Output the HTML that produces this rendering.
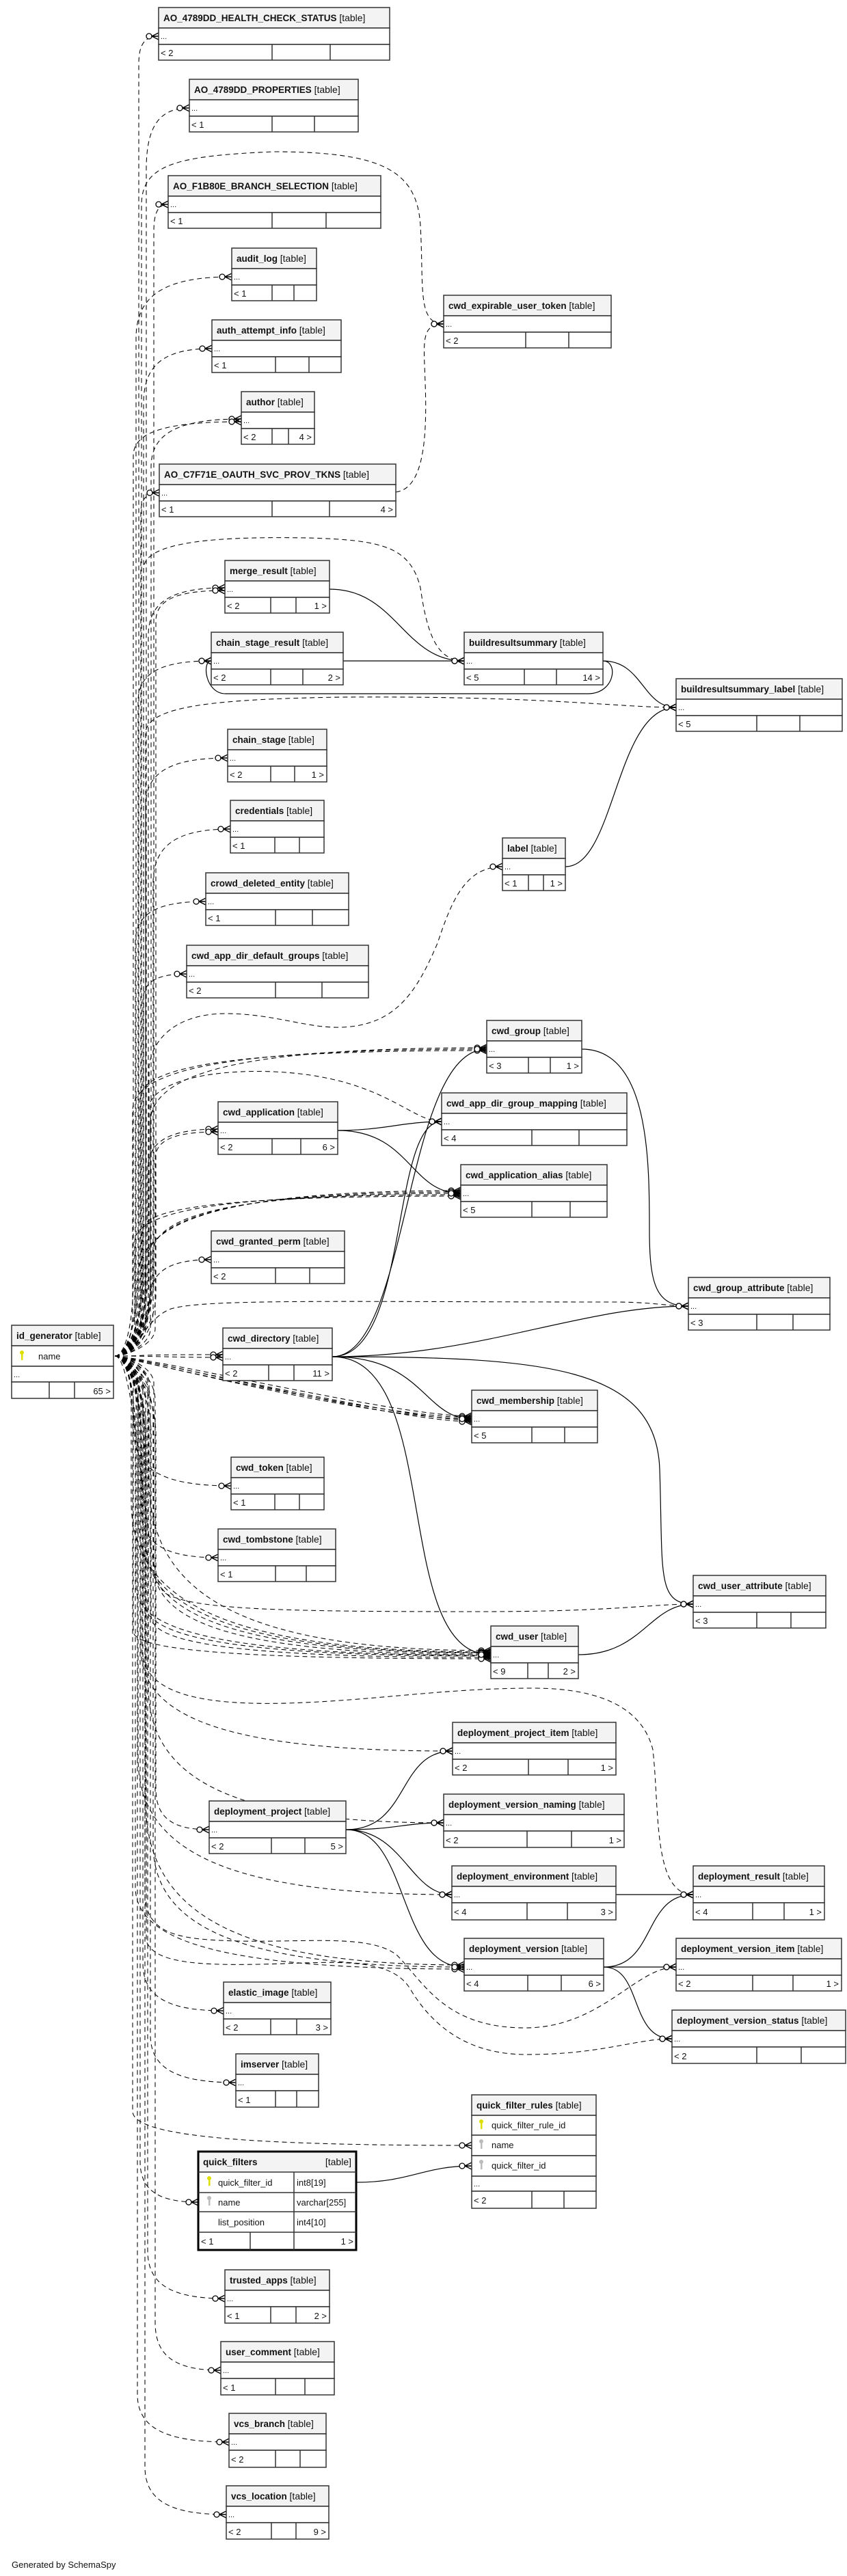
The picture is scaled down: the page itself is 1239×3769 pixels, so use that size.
<!DOCTYPE html>
<html><head><meta charset="utf-8"><style>
html,body{margin:0;padding:0;background:#fff}
svg{display:block}
.h{fill:#f3f3f3;stroke:#333;stroke-width:1.5}
.r{fill:#fff;stroke:#333;stroke-width:1.5}
.l{stroke:#333;stroke-width:1.5}
text{font-family:"Liberation Sans",sans-serif;fill:#111}
.n{font-weight:bold;font-size:13.5px}
.t{font-weight:normal;font-size:14px}
.d{font-size:11px}
.f{font-size:13px}
.e{fill:none;stroke:#000;stroke-width:1.05;stroke-dasharray:7,5}
.s{fill:none;stroke:#000;stroke-width:1.2}
</style></head><body>
<svg id="sv" width="1239" height="3769" viewBox="0 0 1239 3769" xmlns="http://www.w3.org/2000/svg">
<defs>
<marker id="m" markerUnits="userSpaceOnUse" markerWidth="22" markerHeight="14" refX="21" refY="7" orient="auto" viewBox="0 0 22 14">
<circle cx="7" cy="7" r="4" fill="#fff" stroke="#000" stroke-width="1.3" stroke-dasharray="none"/>
<path d="M11,7 L21,2 M11,7 L21,7 M11,7 L21,12" stroke="#000" stroke-width="1.4" fill="none" stroke-dasharray="none"/>
</marker>
</defs>
<g id="edges"></g>
<g id="tables">
<g transform="translate(232,11)"><rect class="h" width="338" height="30"/><rect class="r" y="30" width="338" height="24"/><rect class="r" y="54" width="338" height="23"/><line class="l" x1="166" y1="54" x2="166" y2="77"/><line class="l" x1="251" y1="54" x2="251" y2="77"/><text class="n" x="7" y="20">AO_4789DD_HEALTH_CHECK_STATUS <tspan class="t">[table]</tspan></text><text class="d" x="3" y="46">...</text><text class="f" x="3" y="71">&lt; 2</text></g>

<g transform="translate(277,116)"><rect class="h" width="247" height="30"/><rect class="r" y="30" width="247" height="24"/><rect class="r" y="54" width="247" height="23"/><line class="l" x1="121" y1="54" x2="121" y2="77"/><line class="l" x1="183" y1="54" x2="183" y2="77"/><text class="n" x="7" y="20">AO_4789DD_PROPERTIES <tspan class="t">[table]</tspan></text><text class="d" x="3" y="46">...</text><text class="f" x="3" y="71">&lt; 1</text></g>

<g transform="translate(246,257)"><rect class="h" width="311" height="30"/><rect class="r" y="30" width="311" height="24"/><rect class="r" y="54" width="311" height="23"/><line class="l" x1="152" y1="54" x2="152" y2="77"/><line class="l" x1="231" y1="54" x2="231" y2="77"/><text class="n" x="7" y="20">AO_F1B80E_BRANCH_SELECTION <tspan class="t">[table]</tspan></text><text class="d" x="3" y="46">...</text><text class="f" x="3" y="71">&lt; 1</text></g>

<g transform="translate(339,363)"><rect class="h" width="124" height="30"/><rect class="r" y="30" width="124" height="24"/><rect class="r" y="54" width="124" height="23"/><line class="l" x1="59" y1="54" x2="59" y2="77"/><line class="l" x1="91" y1="54" x2="91" y2="77"/><text class="n" x="7" y="20">audit_log <tspan class="t">[table]</tspan></text><text class="d" x="3" y="46">...</text><text class="f" x="3" y="71">&lt; 1</text></g>

<g transform="translate(649,432)"><rect class="h" width="245" height="30"/><rect class="r" y="30" width="245" height="24"/><rect class="r" y="54" width="245" height="23"/><line class="l" x1="120" y1="54" x2="120" y2="77"/><line class="l" x1="183" y1="54" x2="183" y2="77"/><text class="n" x="7" y="20">cwd_expirable_user_token <tspan class="t">[table]</tspan></text><text class="d" x="3" y="46">...</text><text class="f" x="3" y="71">&lt; 2</text></g>

<g transform="translate(310,468)"><rect class="h" width="189" height="30"/><rect class="r" y="30" width="189" height="24"/><rect class="r" y="54" width="189" height="23"/><line class="l" x1="93" y1="54" x2="93" y2="77"/><line class="l" x1="142" y1="54" x2="142" y2="77"/><text class="n" x="7" y="20">auth_attempt_info <tspan class="t">[table]</tspan></text><text class="d" x="3" y="46">...</text><text class="f" x="3" y="71">&lt; 1</text></g>

<g transform="translate(353,573)"><rect class="h" width="107" height="30"/><rect class="r" y="30" width="107" height="24"/><rect class="r" y="54" width="107" height="23"/><line class="l" x1="45" y1="54" x2="45" y2="77"/><line class="l" x1="69" y1="54" x2="69" y2="77"/><text class="n" x="7" y="20">author <tspan class="t">[table]</tspan></text><text class="d" x="3" y="46">...</text><text class="f" x="3" y="71">&lt; 2</text><text class="f" x="103" y="71" text-anchor="end">4 &gt;</text></g>

<g transform="translate(233,679)"><rect class="h" width="346" height="30"/><rect class="r" y="30" width="346" height="24"/><rect class="r" y="54" width="346" height="23"/><line class="l" x1="165" y1="54" x2="165" y2="77"/><line class="l" x1="249" y1="54" x2="249" y2="77"/><text class="n" x="7" y="20">AO_C7F71E_OAUTH_SVC_PROV_TKNS <tspan class="t">[table]</tspan></text><text class="d" x="3" y="46">...</text><text class="f" x="3" y="71">&lt; 1</text><text class="f" x="342" y="71" text-anchor="end">4 &gt;</text></g>

<g transform="translate(329,820)"><rect class="h" width="153" height="30"/><rect class="r" y="30" width="153" height="24"/><rect class="r" y="54" width="153" height="23"/><line class="l" x1="67" y1="54" x2="67" y2="77"/><line class="l" x1="104" y1="54" x2="104" y2="77"/><text class="n" x="7" y="20">merge_result <tspan class="t">[table]</tspan></text><text class="d" x="3" y="46">...</text><text class="f" x="3" y="71">&lt; 2</text><text class="f" x="149" y="71" text-anchor="end">1 &gt;</text></g>

<g transform="translate(309,925)"><rect class="h" width="193" height="30"/><rect class="r" y="30" width="193" height="24"/><rect class="r" y="54" width="193" height="23"/><line class="l" x1="87" y1="54" x2="87" y2="77"/><line class="l" x1="134" y1="54" x2="134" y2="77"/><text class="n" x="7" y="20">chain_stage_result <tspan class="t">[table]</tspan></text><text class="d" x="3" y="46">...</text><text class="f" x="3" y="71">&lt; 2</text><text class="f" x="189" y="71" text-anchor="end">2 &gt;</text></g>

<g transform="translate(679,925)"><rect class="h" width="203" height="30"/><rect class="r" y="30" width="203" height="24"/><rect class="r" y="54" width="203" height="23"/><line class="l" x1="88" y1="54" x2="88" y2="77"/><line class="l" x1="135" y1="54" x2="135" y2="77"/><text class="n" x="7" y="20">buildresultsummary <tspan class="t">[table]</tspan></text><text class="d" x="3" y="46">...</text><text class="f" x="3" y="71">&lt; 5</text><text class="f" x="199" y="71" text-anchor="end">14 &gt;</text></g>

<g transform="translate(989,993)"><rect class="h" width="243" height="30"/><rect class="r" y="30" width="243" height="24"/><rect class="r" y="54" width="243" height="23"/><line class="l" x1="118" y1="54" x2="118" y2="77"/><line class="l" x1="181" y1="54" x2="181" y2="77"/><text class="n" x="7" y="20">buildresultsummary_label <tspan class="t">[table]</tspan></text><text class="d" x="3" y="46">...</text><text class="f" x="3" y="71">&lt; 5</text></g>

<g transform="translate(333,1067)"><rect class="h" width="145" height="30"/><rect class="r" y="30" width="145" height="24"/><rect class="r" y="54" width="145" height="23"/><line class="l" x1="63" y1="54" x2="63" y2="77"/><line class="l" x1="98" y1="54" x2="98" y2="77"/><text class="n" x="7" y="20">chain_stage <tspan class="t">[table]</tspan></text><text class="d" x="3" y="46">...</text><text class="f" x="3" y="71">&lt; 2</text><text class="f" x="141" y="71" text-anchor="end">1 &gt;</text></g>

<g transform="translate(337,1171)"><rect class="h" width="137" height="30"/><rect class="r" y="30" width="137" height="24"/><rect class="r" y="54" width="137" height="23"/><line class="l" x1="65" y1="54" x2="65" y2="77"/><line class="l" x1="101" y1="54" x2="101" y2="77"/><text class="n" x="7" y="20">credentials <tspan class="t">[table]</tspan></text><text class="d" x="3" y="46">...</text><text class="f" x="3" y="71">&lt; 1</text></g>

<g transform="translate(735,1226)"><rect class="h" width="92" height="30"/><rect class="r" y="30" width="92" height="24"/><rect class="r" y="54" width="92" height="23"/><line class="l" x1="38" y1="54" x2="38" y2="77"/><line class="l" x1="60" y1="54" x2="60" y2="77"/><text class="n" x="7" y="20">label <tspan class="t">[table]</tspan></text><text class="d" x="3" y="46">...</text><text class="f" x="3" y="71">&lt; 1</text><text class="f" x="88" y="71" text-anchor="end">1 &gt;</text></g>

<g transform="translate(301,1277)"><rect class="h" width="209" height="30"/><rect class="r" y="30" width="209" height="24"/><rect class="r" y="54" width="209" height="23"/><line class="l" x1="102" y1="54" x2="102" y2="77"/><line class="l" x1="156" y1="54" x2="156" y2="77"/><text class="n" x="7" y="20">crowd_deleted_entity <tspan class="t">[table]</tspan></text><text class="d" x="3" y="46">...</text><text class="f" x="3" y="71">&lt; 1</text></g>

<g transform="translate(273,1383)"><rect class="h" width="266" height="30"/><rect class="r" y="30" width="266" height="24"/><rect class="r" y="54" width="266" height="23"/><line class="l" x1="130" y1="54" x2="130" y2="77"/><line class="l" x1="198" y1="54" x2="198" y2="77"/><text class="n" x="7" y="20">cwd_app_dir_default_groups <tspan class="t">[table]</tspan></text><text class="d" x="3" y="46">...</text><text class="f" x="3" y="71">&lt; 2</text></g>

<g transform="translate(712,1493)"><rect class="h" width="139" height="30"/><rect class="r" y="30" width="139" height="24"/><rect class="r" y="54" width="139" height="23"/><line class="l" x1="61" y1="54" x2="61" y2="77"/><line class="l" x1="93" y1="54" x2="93" y2="77"/><text class="n" x="7" y="20">cwd_group <tspan class="t">[table]</tspan></text><text class="d" x="3" y="46">...</text><text class="f" x="3" y="71">&lt; 3</text><text class="f" x="135" y="71" text-anchor="end">1 &gt;</text></g>

<g transform="translate(646,1599)"><rect class="h" width="271" height="30"/><rect class="r" y="30" width="271" height="24"/><rect class="r" y="54" width="271" height="23"/><line class="l" x1="132" y1="54" x2="132" y2="77"/><line class="l" x1="201" y1="54" x2="201" y2="77"/><text class="n" x="7" y="20">cwd_app_dir_group_mapping <tspan class="t">[table]</tspan></text><text class="d" x="3" y="46">...</text><text class="f" x="3" y="71">&lt; 4</text></g>

<g transform="translate(319,1612)"><rect class="h" width="175" height="30"/><rect class="r" y="30" width="175" height="24"/><rect class="r" y="54" width="175" height="23"/><line class="l" x1="79" y1="54" x2="79" y2="77"/><line class="l" x1="121" y1="54" x2="121" y2="77"/><text class="n" x="7" y="20">cwd_application <tspan class="t">[table]</tspan></text><text class="d" x="3" y="46">...</text><text class="f" x="3" y="71">&lt; 2</text><text class="f" x="171" y="71" text-anchor="end">6 &gt;</text></g>

<g transform="translate(674,1704)"><rect class="h" width="214" height="30"/><rect class="r" y="30" width="214" height="24"/><rect class="r" y="54" width="214" height="23"/><line class="l" x1="104" y1="54" x2="104" y2="77"/><line class="l" x1="160" y1="54" x2="160" y2="77"/><text class="n" x="7" y="20">cwd_application_alias <tspan class="t">[table]</tspan></text><text class="d" x="3" y="46">...</text><text class="f" x="3" y="71">&lt; 5</text></g>

<g transform="translate(309,1801)"><rect class="h" width="195" height="30"/><rect class="r" y="30" width="195" height="24"/><rect class="r" y="54" width="195" height="23"/><line class="l" x1="94" y1="54" x2="94" y2="77"/><line class="l" x1="144" y1="54" x2="144" y2="77"/><text class="n" x="7" y="20">cwd_granted_perm <tspan class="t">[table]</tspan></text><text class="d" x="3" y="46">...</text><text class="f" x="3" y="71">&lt; 2</text></g>

<g transform="translate(1007,1869)"><rect class="h" width="207" height="30"/><rect class="r" y="30" width="207" height="24"/><rect class="r" y="54" width="207" height="23"/><line class="l" x1="100" y1="54" x2="100" y2="77"/><line class="l" x1="153" y1="54" x2="153" y2="77"/><text class="n" x="7" y="20">cwd_group_attribute <tspan class="t">[table]</tspan></text><text class="d" x="3" y="46">...</text><text class="f" x="3" y="71">&lt; 3</text></g>

<g transform="translate(17,1939)"><rect class="h" width="149" height="30"/><rect class="r" y="30" width="149" height="30"/><rect class="r" y="60" width="149" height="23"/><rect class="r" y="83" width="149" height="24"/><line class="l" x1="55" y1="83" x2="55" y2="107"/><line class="l" x1="92" y1="83" x2="92" y2="107"/><text class="n" x="7" y="20">id_generator <tspan class="t">[table]</tspan></text><circle cx="15" cy="40" r="3" fill="#dede00"/><rect x="14" y="41" width="2.5" height="10" fill="#dede00"/><text class="f" x="39" y="50">name</text><text class="d" x="3" y="76">...</text><text class="f" x="145" y="101" text-anchor="end">65 &gt;</text></g>

<g transform="translate(326,1943)"><rect class="h" width="160" height="30"/><rect class="r" y="30" width="160" height="24"/><rect class="r" y="54" width="160" height="23"/><line class="l" x1="67" y1="54" x2="67" y2="77"/><line class="l" x1="104" y1="54" x2="104" y2="77"/><text class="n" x="7" y="20">cwd_directory <tspan class="t">[table]</tspan></text><text class="d" x="3" y="46">...</text><text class="f" x="3" y="71">&lt; 2</text><text class="f" x="156" y="71" text-anchor="end">11 &gt;</text></g>

<g transform="translate(690,2034)"><rect class="h" width="184" height="30"/><rect class="r" y="30" width="184" height="24"/><rect class="r" y="54" width="184" height="23"/><line class="l" x1="88" y1="54" x2="88" y2="77"/><line class="l" x1="136" y1="54" x2="136" y2="77"/><text class="n" x="7" y="20">cwd_membership <tspan class="t">[table]</tspan></text><text class="d" x="3" y="46">...</text><text class="f" x="3" y="71">&lt; 5</text></g>

<g transform="translate(338,2132)"><rect class="h" width="136" height="30"/><rect class="r" y="30" width="136" height="24"/><rect class="r" y="54" width="136" height="23"/><line class="l" x1="64" y1="54" x2="64" y2="77"/><line class="l" x1="100" y1="54" x2="100" y2="77"/><text class="n" x="7" y="20">cwd_token <tspan class="t">[table]</tspan></text><text class="d" x="3" y="46">...</text><text class="f" x="3" y="71">&lt; 1</text></g>

<g transform="translate(319,2237)"><rect class="h" width="172" height="30"/><rect class="r" y="30" width="172" height="24"/><rect class="r" y="54" width="172" height="23"/><line class="l" x1="84" y1="54" x2="84" y2="77"/><line class="l" x1="129" y1="54" x2="129" y2="77"/><text class="n" x="7" y="20">cwd_tombstone <tspan class="t">[table]</tspan></text><text class="d" x="3" y="46">...</text><text class="f" x="3" y="71">&lt; 1</text></g>

<g transform="translate(1014,2305)"><rect class="h" width="194" height="30"/><rect class="r" y="30" width="194" height="24"/><rect class="r" y="54" width="194" height="23"/><line class="l" x1="93" y1="54" x2="93" y2="77"/><line class="l" x1="143" y1="54" x2="143" y2="77"/><text class="n" x="7" y="20">cwd_user_attribute <tspan class="t">[table]</tspan></text><text class="d" x="3" y="46">...</text><text class="f" x="3" y="71">&lt; 3</text></g>

<g transform="translate(718,2379)"><rect class="h" width="128" height="30"/><rect class="r" y="30" width="128" height="24"/><rect class="r" y="54" width="128" height="23"/><line class="l" x1="54" y1="54" x2="54" y2="77"/><line class="l" x1="84" y1="54" x2="84" y2="77"/><text class="n" x="7" y="20">cwd_user <tspan class="t">[table]</tspan></text><text class="d" x="3" y="46">...</text><text class="f" x="3" y="71">&lt; 9</text><text class="f" x="124" y="71" text-anchor="end">2 &gt;</text></g>

<g transform="translate(662,2520)"><rect class="h" width="239" height="30"/><rect class="r" y="30" width="239" height="24"/><rect class="r" y="54" width="239" height="23"/><line class="l" x1="111" y1="54" x2="111" y2="77"/><line class="l" x1="169" y1="54" x2="169" y2="77"/><text class="n" x="7" y="20">deployment_project_item <tspan class="t">[table]</tspan></text><text class="d" x="3" y="46">...</text><text class="f" x="3" y="71">&lt; 2</text><text class="f" x="235" y="71" text-anchor="end">1 &gt;</text></g>

<g transform="translate(649,2625)"><rect class="h" width="264" height="30"/><rect class="r" y="30" width="264" height="24"/><rect class="r" y="54" width="264" height="24"/><line class="l" x1="122" y1="54" x2="122" y2="78"/><line class="l" x1="187" y1="54" x2="187" y2="78"/><text class="n" x="7" y="20">deployment_version_naming <tspan class="t">[table]</tspan></text><text class="d" x="3" y="46">...</text><text class="f" x="3" y="72">&lt; 2</text><text class="f" x="260" y="72" text-anchor="end">1 &gt;</text></g>

<g transform="translate(306,2635)"><rect class="h" width="200" height="30"/><rect class="r" y="30" width="200" height="24"/><rect class="r" y="54" width="200" height="23"/><line class="l" x1="91" y1="54" x2="91" y2="77"/><line class="l" x1="140" y1="54" x2="140" y2="77"/><text class="n" x="7" y="20">deployment_project <tspan class="t">[table]</tspan></text><text class="d" x="3" y="46">...</text><text class="f" x="3" y="71">&lt; 2</text><text class="f" x="196" y="71" text-anchor="end">5 &gt;</text></g>

<g transform="translate(661,2730)"><rect class="h" width="240" height="30"/><rect class="r" y="30" width="240" height="24"/><rect class="r" y="54" width="240" height="25"/><line class="l" x1="110" y1="54" x2="110" y2="79"/><line class="l" x1="169" y1="54" x2="169" y2="79"/><text class="n" x="7" y="20">deployment_environment <tspan class="t">[table]</tspan></text><text class="d" x="3" y="46">...</text><text class="f" x="3" y="72">&lt; 4</text><text class="f" x="236" y="72" text-anchor="end">3 &gt;</text></g>

<g transform="translate(1014,2730)"><rect class="h" width="192" height="30"/><rect class="r" y="30" width="192" height="24"/><rect class="r" y="54" width="192" height="25"/><line class="l" x1="87" y1="54" x2="87" y2="79"/><line class="l" x1="133" y1="54" x2="133" y2="79"/><text class="n" x="7" y="20">deployment_result <tspan class="t">[table]</tspan></text><text class="d" x="3" y="46">...</text><text class="f" x="3" y="72">&lt; 4</text><text class="f" x="188" y="72" text-anchor="end">1 &gt;</text></g>

<g transform="translate(679,2836)"><rect class="h" width="204" height="30"/><rect class="r" y="30" width="204" height="24"/><rect class="r" y="54" width="204" height="23"/><line class="l" x1="93" y1="54" x2="93" y2="77"/><line class="l" x1="142" y1="54" x2="142" y2="77"/><text class="n" x="7" y="20">deployment_version <tspan class="t">[table]</tspan></text><text class="d" x="3" y="46">...</text><text class="f" x="3" y="71">&lt; 4</text><text class="f" x="200" y="71" text-anchor="end">6 &gt;</text></g>

<g transform="translate(989,2836)"><rect class="h" width="242" height="30"/><rect class="r" y="30" width="242" height="24"/><rect class="r" y="54" width="242" height="23"/><line class="l" x1="112" y1="54" x2="112" y2="77"/><line class="l" x1="171" y1="54" x2="171" y2="77"/><text class="n" x="7" y="20">deployment_version_item <tspan class="t">[table]</tspan></text><text class="d" x="3" y="46">...</text><text class="f" x="3" y="71">&lt; 2</text><text class="f" x="238" y="71" text-anchor="end">1 &gt;</text></g>

<g transform="translate(327,2900)"><rect class="h" width="157" height="30"/><rect class="r" y="30" width="157" height="24"/><rect class="r" y="54" width="157" height="23"/><line class="l" x1="69" y1="54" x2="69" y2="77"/><line class="l" x1="107" y1="54" x2="107" y2="77"/><text class="n" x="7" y="20">elastic_image <tspan class="t">[table]</tspan></text><text class="d" x="3" y="46">...</text><text class="f" x="3" y="71">&lt; 2</text><text class="f" x="153" y="71" text-anchor="end">3 &gt;</text></g>

<g transform="translate(983,2941)"><rect class="h" width="254" height="30"/><rect class="r" y="30" width="254" height="24"/><rect class="r" y="54" width="254" height="24"/><line class="l" x1="124" y1="54" x2="124" y2="78"/><line class="l" x1="189" y1="54" x2="189" y2="78"/><text class="n" x="7" y="20">deployment_version_status <tspan class="t">[table]</tspan></text><text class="d" x="3" y="46">...</text><text class="f" x="3" y="72">&lt; 2</text></g>

<g transform="translate(345,3005)"><rect class="h" width="121" height="30"/><rect class="r" y="30" width="121" height="24"/><rect class="r" y="54" width="121" height="24"/><line class="l" x1="58" y1="54" x2="58" y2="78"/><line class="l" x1="89" y1="54" x2="89" y2="78"/><text class="n" x="7" y="20">imserver <tspan class="t">[table]</tspan></text><text class="d" x="3" y="46">...</text><text class="f" x="3" y="72">&lt; 1</text></g>

<g transform="translate(690,3065)"><rect class="h" width="182" height="30"/><rect class="r" y="30" width="182" height="29"/><rect class="r" y="59" width="182" height="30"/><rect class="r" y="89" width="182" height="30"/><rect class="r" y="119" width="182" height="22"/><rect class="r" y="141" width="182" height="25"/><line class="l" x1="88" y1="141" x2="88" y2="166"/><line class="l" x1="135" y1="141" x2="135" y2="166"/><text class="n" x="7" y="20">quick_filter_rules <tspan class="t">[table]</tspan></text><circle cx="14" cy="39" r="3" fill="#dede00"/><rect x="13" y="40" width="2.5" height="10" fill="#dede00"/><text class="f" x="29" y="49">quick_filter_rule_id</text><circle cx="14" cy="68" r="3" fill="#bbb"/><rect x="13" y="69" width="2.5" height="10" fill="#bbb"/><text class="f" x="29" y="78">name</text><circle cx="14" cy="98" r="3" fill="#bbb"/><rect x="13" y="99" width="2.5" height="10" fill="#bbb"/><text class="f" x="29" y="108">quick_filter_id</text><text class="d" x="3" y="134">...</text><text class="f" x="3" y="159">&lt; 2</text></g>

<g transform="translate(290,3148)"><rect x="0" y="0" width="231" height="144" fill="#fff" stroke="#000" stroke-width="3"/><rect class="h" x="1.5" y="1.5" width="228" height="28.5" style="stroke:none"/><line class="l" x1="0" y1="30" x2="231" y2="30"/><line class="l" x1="0" y1="60" x2="231" y2="60"/><line class="l" x1="0" y1="88" x2="231" y2="88"/><line class="l" x1="0" y1="118" x2="231" y2="118"/><line class="l" x1="140" y1="30" x2="140" y2="118"/><line class="l" x1="76" y1="118" x2="76" y2="144"/><line class="l" x1="140" y1="118" x2="140" y2="144"/><text class="n" x="7" y="20">quick_filters</text><text class="t" x="224" y="20" text-anchor="end">[table]</text><circle cx="16" cy="39" r="3" fill="#dede00"/><rect x="15" y="40" width="2.5" height="10" fill="#dede00"/><text class="f" x="29" y="50">quick_filter_id</text><text class="f" x="144" y="50">int8[19]</text><circle cx="16" cy="68" r="3" fill="#bbb"/><rect x="15" y="69" width="2.5" height="10" fill="#bbb"/><text class="f" x="29" y="79">name</text><text class="f" x="144" y="79">varchar[255]</text><text class="f" x="29" y="108">list_position</text><text class="f" x="144" y="108">int4[10]</text><text class="f" x="4" y="136">&lt; 1</text><text class="f" x="227" y="136" text-anchor="end">1 &gt;</text></g>

<g transform="translate(329,3321)"><rect class="h" width="153" height="30"/><rect class="r" y="30" width="153" height="24"/><rect class="r" y="54" width="153" height="24"/><line class="l" x1="67" y1="54" x2="67" y2="78"/><line class="l" x1="104" y1="54" x2="104" y2="78"/><text class="n" x="7" y="20">trusted_apps <tspan class="t">[table]</tspan></text><text class="d" x="3" y="46">...</text><text class="f" x="3" y="72">&lt; 1</text><text class="f" x="149" y="72" text-anchor="end">2 &gt;</text></g>

<g transform="translate(323,3426)"><rect class="h" width="166" height="30"/><rect class="r" y="30" width="166" height="24"/><rect class="r" y="54" width="166" height="24"/><line class="l" x1="80" y1="54" x2="80" y2="78"/><line class="l" x1="123" y1="54" x2="123" y2="78"/><text class="n" x="7" y="20">user_comment <tspan class="t">[table]</tspan></text><text class="d" x="3" y="46">...</text><text class="f" x="3" y="72">&lt; 1</text></g>

<g transform="translate(335,3531)"><rect class="h" width="142" height="30"/><rect class="r" y="30" width="142" height="24"/><rect class="r" y="54" width="142" height="25"/><line class="l" x1="68" y1="54" x2="68" y2="79"/><line class="l" x1="104" y1="54" x2="104" y2="79"/><text class="n" x="7" y="20">vcs_branch <tspan class="t">[table]</tspan></text><text class="d" x="3" y="46">...</text><text class="f" x="3" y="72">&lt; 2</text></g>

<g transform="translate(331,3637)"><rect class="h" width="150" height="30"/><rect class="r" y="30" width="150" height="24"/><rect class="r" y="54" width="150" height="24"/><line class="l" x1="66" y1="54" x2="66" y2="78"/><line class="l" x1="102" y1="54" x2="102" y2="78"/><text class="n" x="7" y="20">vcs_location <tspan class="t">[table]</tspan></text><text class="d" x="3" y="46">...</text><text class="f" x="3" y="72">&lt; 2</text><text class="f" x="146" y="72" text-anchor="end">9 &gt;</text></g>
</g>
<text x="17" y="3757" style="font-size:13px">Generated by SchemaSpy</text>
</svg>
<script>
(function(){
var g=document.getElementById('edges'),NS='http://www.w3.org/2000/svg';
function P(d,solid){var p=document.createElementNS(NS,'path');p.setAttribute('d',d);p.setAttribute('class',solid?'s':'e');p.setAttribute('marker-end','url(#m)');g.appendChild(p);}
var sx=168,sy=1984,k=0;
function G(tx,ty,lead){
 k++;var bx=192+((k*11)%37);var s=ty<sy?-1:1;var dy=Math.abs(ty-sy);var d;
 if(dy<120){d='M'+sx+','+sy+' C'+(sx+40+(k%5)*12)+','+(sy+(ty-sy)*0.1)+' '+(tx-90-(k%4)*20)+','+ty+' '+tx+','+ty;}
 else{lead=Math.min(lead,dy-65);var ey=ty-s*lead;var m=40+(k%4)*25;
 d='M'+sx+','+sy+' C'+(sx+15)+','+sy+' '+bx+','+(sy+s*m*0.4)+' '+bx+','+(sy+s*m)+' L'+bx+','+ey+' C'+bx+','+(ty-s*lead*0.3)+' '+(bx+(tx-bx)*0.3)+','+ty+' '+tx+','+ty;}
 P(d,false);
}
var E=[[232,53,40],[277,158,90],[246,299,40],[339,405,90],[310,510,80],[353,613,70],[353,617,50],[233,721,30],[329,860,70],[329,864,45],[309,967,60],[333,1109,70],[337,1213,80],[301,1319,60],[273,1425,40],
[712,1533,110],[712,1535,90],[712,1537,70],[319,1652,60],[319,1656,40],
[674,1742,130],[674,1744,110],[674,1746,90],[674,1748,70],[674,1750,50],[309,1843,60],
[326,1982,0],[326,1986,0],[690,2072,0],[690,2074,0],[690,2076,0],[690,2078,0],[690,2080,0],
[338,2174,80],[319,2279,70],
[718,2415,250],[718,2417,220],[718,2418,190],[718,2419,160],[718,2421,130],[718,2422,100],[718,2423,80],[718,2425,60],[718,2427,40],
[662,2562,150],[649,2667,200],[306,2677,60],[661,2772,200],[679,2875,240],[679,2878,180],[679,2881,120],
[327,2942,70],[345,3047,70],[690,3139,50],[290,3222,60],[329,3363,70],[323,3468,70],[335,3573,70],[331,3679,70]];
E.forEach(function(e){G(e[0],e[1],e[2]);});
var D=[
'M168,1984 C207,1984 207,1900 207,1850 L207,300 C207,240 260,228 400,222 C560,222 610,250 615,330 C620,420 610,474 649,474',
'M579,720 C620,715 625,640 622,560 C620,500 615,474 649,474',
'M168,1984 C210,1984 210,1900 210,1850 L210,830 C215,790 330,785 450,787 C560,790 600,800 615,860 C625,930 640,967 679,967',
'M168,1984 C213,1984 213,1900 213,1850 L213,1070 C220,1035 300,1023 500,1020 C800,1018 900,1035 989,1035',
'M168,1984 C218,1984 218,1900 218,1850 L218,1560 C225,1510 270,1483 330,1483 C400,1483 450,1505 500,1503 C580,1500 610,1450 640,1380 C660,1320 680,1268 735,1268',
'M168,1984 C220,1984 220,1900 220,1850 L220,1612 C240,1575 330,1565 400,1568 C560,1575 600,1641 646,1641',
'M168,1984 C200,1984 210,1930 250,1915 C300,1900 500,1905 900,1905 C950,1905 980,1911 1007,1911',
'M168,1984 C200,1984 210,2300 240,2330 C280,2355 400,2358 700,2358 C900,2358 950,2347 1014,2347',
'M168,1984 C208,1984 208,2100 208,2200 L208,2420 C215,2480 300,2495 420,2492 C550,2488 650,2470 780,2470 C880,2470 940,2500 955,2560 C965,2650 955,2772 1014,2772',
'M168,1984 C212,1984 212,2100 212,2200 L212,2780 C220,2830 260,2838 350,2840 C450,2842 540,2830 580,2860 C620,2900 650,2967 768,2967 C880,2967 930,2878 989,2878',
'M168,1984 C214,1984 214,2100 214,2200 L214,2840 C225,2870 280,2876 380,2874 C480,2872 570,2860 600,2910 C630,2960 680,3006 770,3006 C880,3006 930,2983 983,2983'
];
D.forEach(function(d){P(d,false);});
var S=[
'M482,862 C580,862 590,967 679,967','M502,967 L679,967',
'M882,967 C905,967 900,1015 860,1015 L330,1015 C300,1015 295,967 309,967',
'M882,967 C940,967 940,1035 989,1035','M827,1268 C900,1268 900,1035 989,1035',
'M494,1654 C560,1654 590,1641 646,1641','M494,1654 C600,1654 600,1746 674,1746',
'M486,1985 C600,1985 590,1535 712,1535','M486,1985 C600,1985 570,1641 646,1641',
'M486,1985 C700,1985 850,1911 1007,1911','M486,1985 C620,1985 620,2076 690,2076',
'M486,1985 C650,1985 570,2421 718,2421','M486,1985 C800,1985 960,2000 965,2150 C970,2300 960,2347 1014,2347',
'M851,1535 C950,1535 950,1700 950,1800 C950,1880 960,1911 1007,1911',
'M846,2421 C940,2421 950,2347 1014,2347',
'M506,2677 C600,2677 580,2562 662,2562','M506,2677 C580,2677 590,2667 649,2667',
'M506,2677 C590,2677 600,2772 661,2772','M506,2677 C600,2677 580,2878 679,2878',
'M901,2772 L1014,2772','M883,2878 C960,2878 940,2772 1014,2772','M883,2878 L989,2878',
'M883,2878 C940,2878 920,2983 983,2983','M521,3193 C600,3193 620,3169 690,3169'];
S.forEach(function(d){P(d,true);});
})();
</script>
</body></html>
